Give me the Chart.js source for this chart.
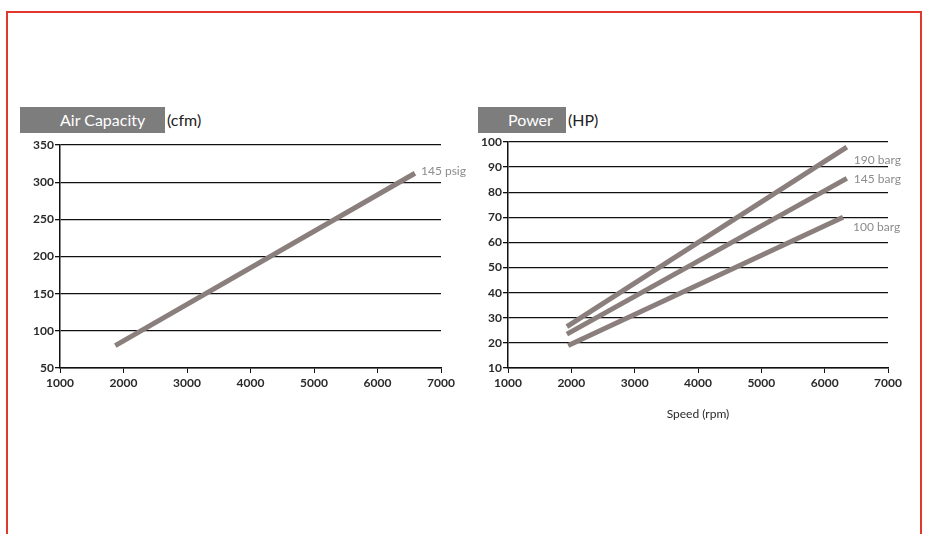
<!DOCTYPE html>
<html>
<head>
<meta charset="utf-8">
<script src="https://cdn.jsdelivr.net/npm/chart.js@4.4.1/dist/chart.umd.min.js"></script>
<style>
  body { margin: 0; width: 929px; height: 534px; background: #fff; position: relative; overflow: hidden; font-family: Lato, sans-serif; }
  .frame { position: absolute; left: 6px; top: 11px; width: 912px; height: 530px; border: 2px solid #e2372c; }
  .tag { position: absolute; top: 107px; height: 26px; line-height: 26px; background: #7d7d7d; color: #fff; font-size: 16px; box-sizing: border-box; }
  .unit { position: absolute; top: 107px; height: 26px; line-height: 26px; color: #222; font-size: 16px; }
  canvas { position: absolute; }
</style>
</head>
<body>
<div class="frame"></div>
<div class="tag" style="left:20px;width:145px;padding-left:40px;">Air Capacity</div>
<div class="unit" style="left:167px;">(cfm)</div>
<div class="tag" style="left:478px;width:88px;padding-left:30px;">Power</div>
<div class="unit" style="left:568px;">(HP)</div>

<canvas id="chartAir" style="left:10px;top:135px;" width="460" height="270"></canvas>
<canvas id="chartPower" style="left:458px;top:132px;" width="460" height="291"></canvas>

<script>
// ---- data ----
const speedTicks = [1000, 2000, 3000, 4000, 5000, 6000, 7000];

const airLabel = '145 psig';
const airSpeed = [1870, 6590];
const airCfm = [80, 312];

const powerLabels = ['190 barg', '145 barg', '100 barg'];
const powerSpeed = [[1930, 6350], [1930, 6350], [1950, 6290]];
const powerHp = [[26.5, 98], [23.5, 85.5], [19, 70]];

// label offsets from the line end (style only)
const airLabelOffset = [{ dx: 6, dy: -2 }];
const powerLabelOffset = [{ dx: 7, dy: 13 }, { dx: 7, dy: 1 }, { dx: 10, dy: 10 }];

const LINE = '#8a7f7c';
const FONT = 'Lato, sans-serif';

const endLabels = {
  id: 'endLabels',
  afterDatasetsDraw(chart, args, opts) {
    const ctx = chart.ctx;
    ctx.save();
    ctx.font = '12px ' + FONT;
    ctx.fillStyle = '#8c8c8c';
    ctx.textBaseline = 'middle';
    chart.data.datasets.forEach((ds, i) => {
      const pts = chart.getDatasetMeta(i).data;
      const last = pts[pts.length - 1];
      const off = opts.offsets[i] || { dx: 5, dy: 0 };
      ctx.fillText(ds.label, last.x + off.dx, last.y + off.dy);
    });
    ctx.restore();
  }
};

function toPoints(xs, ys) {
  return xs.map((x, i) => ({ x, y: ys[i] }));
}

function makeChart(id, datasets, yMin, yMax, yStep, offsets, padRight, padTop, xHeight, xTitle) {
  return new Chart(document.getElementById(id), {
    type: 'line',
    data: { datasets },
    options: {
      responsive: false,
      animation: false,
      layout: { padding: { left: 0, right: padRight, top: padTop, bottom: 0 } },
      elements: {
        line: { borderColor: LINE, borderWidth: 5, borderCapStyle: 'butt', tension: 0 },
        point: { radius: 0 }
      },
      plugins: {
        legend: { display: false },
        tooltip: { enabled: false },
        endLabels: { offsets }
      },
      scales: {
        x: {
          type: 'linear', min: 1000, max: 7000,
          afterBuildTicks: s => { s.ticks = speedTicks.map(v => ({ value: v })); },
          afterFit: s => { s.height = xHeight; },
          grid: { drawOnChartArea: false, drawTicks: true, tickLength: 5, color: '#111' },
          border: { color: '#111', width: 1.5 },
          ticks: { callback: v => String(v), color: '#2a2a2a', font: { family: FONT, size: 12, weight: 'bold' }, padding: 3, maxRotation: 0 },
          title: { display: !!xTitle, text: xTitle, color: '#2a2a2a', font: { family: FONT, size: 12 }, padding: { top: 4, bottom: 2 } }
        },
        y: {
          min: yMin, max: yMax,
          afterFit: s => { s.width = 50; },
          grid: { color: '#111', lineWidth: 1.3, tickLength: 5 },
          border: { color: '#111', width: 1.5 },
          ticks: { stepSize: yStep, callback: v => String(v), color: '#2a2a2a', font: { family: FONT, size: 12, weight: 'bold' }, padding: 1 }
        }
      }
    },
    plugins: [endLabels]
  });
}

makeChart('chartAir',
  [{ label: airLabel, data: toPoints(airSpeed, airCfm) }],
  50, 350, 50, airLabelOffset, 29, 10, 37, '');

makeChart('chartPower',
  powerLabels.map((lab, i) => ({ label: lab, data: toPoints(powerSpeed[i], powerHp[i]) })),
  10, 100, 10, powerLabelOffset, 30, 10, 55, 'Speed (rpm)');
</script>
</body>
</html>
